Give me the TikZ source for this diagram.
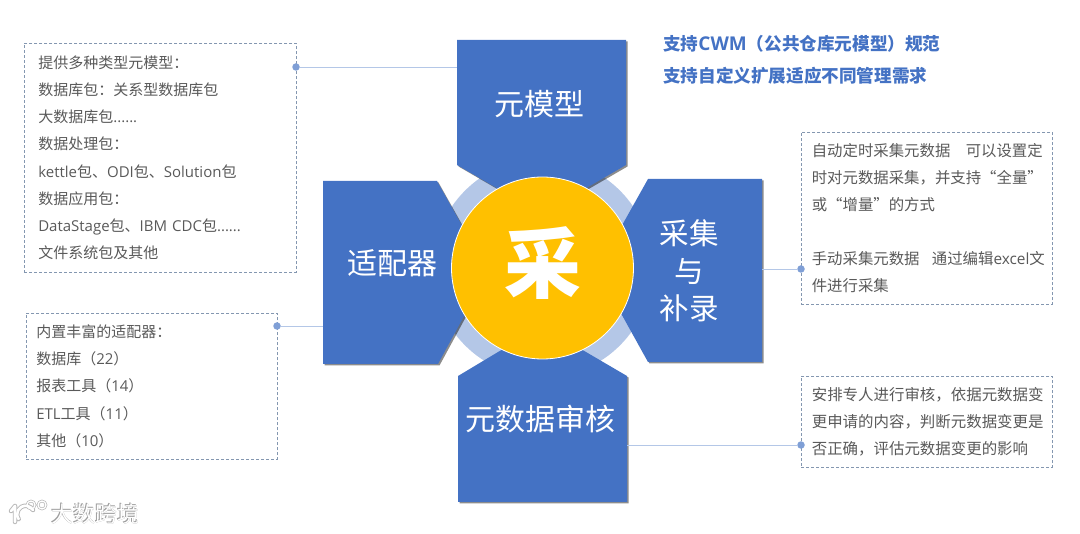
\documentclass[tikz,border=0pt]{standalone}
\usepackage{fontspec}
\usepackage{xcolor}
\usetikzlibrary{shadows}
\setmainfont{Noto Sans CJK SC}
\newfontfamily\latinfont{Open Sans}
\newfontfamily\widelatinfont[Scale=1.08]{Open Sans}
\newcommand{\en}[1]{{\latinfont #1}}
\definecolor{blockblue}{HTML}{4472C4}
\definecolor{ringblue}{HTML}{B4C7E7}
\definecolor{coreamber}{HTML}{FFC000}
\definecolor{notegray}{HTML}{595959}
\definecolor{dotblue}{HTML}{7F9FD6}
\definecolor{dashblue}{HTML}{8497B0}
\tikzset{
  block/.style={fill=blockblue, drop shadow={shadow xshift=1.5pt, shadow yshift=-1.5pt, opacity=0.45, fill=black}},
  blocktext/.style={text=white, font=\fontsize{30}{38}\selectfont, align=center},
  notebox/.style={draw=dashblue, densely dashed, line width=0.6pt, anchor=north west, inner sep=0pt, text=notegray,
    font=\fontsize{15}{27.1}\selectfont, align=left},
  linkdot/.style={circle, fill=dotblue, inner sep=0pt, minimum size=7.5pt},
  linkline/.style={draw=ringblue, line width=0.6pt},
  headline/.style={text=blockblue, anchor=west, inner sep=0pt, font=\fontsize{17.6}{20}\selectfont\bfseries},
  markglow/.style={text=white!62!black, anchor=west, inner sep=0pt, font=\fontsize{22}{22}\selectfont},
}
\begin{document}
\begin{tikzpicture}[x=1pt, y=-1pt]
\useasboundingbox (0,0) rectangle (1080,534);
\fill[ringblue] (542.5,268) circle (109.5);
% the four blocks
\fill[block] (457,40) -- (626,40) -- (626,165) -- (541.5,214) -- (457,165) -- cycle;
\fill[block] (323,181) -- (437,181) -- (488,272) -- (438,364) -- (323,364) -- cycle;
\fill[block] (648,179) -- (762,179) -- (762,362) -- (648,362) -- (597,270) -- cycle;
\fill[block] (458,376) -- (541.5,326) -- (627,376) -- (627,502) -- (458,502) -- cycle;
\node[blocktext] (metamodel) at (539,104.5) {元模型};
\node[blocktext] (adapter) at (392.5,263.5) {适配器};
\node[blocktext, font=\fontsize{29.5}{37.5}\selectfont] (collect) at (689,271) {采集\\与\\补录};
\node[blocktext] (audit) at (540.5,419) {元数据审核};
\node[circle, fill=coreamber, draw=white, line width=0.8pt, minimum size=182pt, inner sep=0pt, text=white, font=\fontsize{77}{77}\selectfont\bfseries] (core) at (542.5,268) {\raisebox{17pt}{采}};
% top right remarks
\node[headline] (headOne) at (663,44) {支持{\widelatinfont CWM}（公共仓库元模型）规范};
\node[headline] (headTwo) at (663,76) {支持自定义扩展适应不同管理需求};
% note boxes
\node[notebox, minimum width=272pt, minimum height=229pt, text width=272pt] (noteMeta) at (24,43) {\hspace*{14pt}提供多种类型元模型：\\\hspace*{14pt}数据库包：关系型数据库包\\\hspace*{14pt}大数据库包\en{......}\\\hspace*{14pt}数据处理包：\\\hspace*{14pt}\en{kettle}包、\en{ODI}包、\en{Solution}包\\\hspace*{14pt}数据应用包：\\\hspace*{14pt}\en{DataStage}包、\en{IBM CDC}包\en{......}\\\hspace*{14pt}文件系统包及其他};
\node[notebox, minimum width=251pt, minimum height=146pt, text width=251pt] (noteAdapter) at (26,313) {\hspace*{10pt}内置丰富的适配器：\\\hspace*{10pt}数据库（\en{22}）\\\hspace*{10pt}报表工具（\en{14}）\\\hspace*{10pt}\en{ETL}工具（\en{11}）\\\hspace*{10pt}其他（\en{10}）};
\node[notebox, minimum width=251pt, minimum height=172pt, text width=251pt, font=\fontsize{15.4}{27.1}\selectfont] (noteCollect) at (801,132) {\hspace*{10.5pt}自动定时采集元数据\hspace{1em}可以设置定\\\hspace*{10.5pt}时对元数据采集，并支持“全量”\\\hspace*{10.5pt}或“增量”的方式\\[27.1pt]\hspace*{10.5pt}手动采集元数据\hspace{0.8em}通过编辑{\latinfont excel}文\\\hspace*{10.5pt}件进行采集};
\node[notebox, minimum width=251pt, minimum height=91pt, text width=251pt, font=\fontsize{15.45}{27.1}\selectfont] (noteAudit) at (801,376) {\hspace*{10.5pt}安排专人进行审核，依据元数据变\\\hspace*{10.5pt}更申请的内容，判断元数据变更是\\\hspace*{10.5pt}否正确，评估元数据变更的影响};
% connectors
\coordinate (portMeta) at (457,67);
\coordinate (portAdapter) at (323,326);
\coordinate (portCollect) at (762,269);
\coordinate (portAudit) at (627,445);
\node[linkdot] (dotMeta) at (296,67) {};
\node[linkdot] (dotAdapter) at (277,326) {};
\node[linkdot] (dotCollect) at (801,269) {};
\node[linkdot] (dotAudit) at (801,445) {};
\draw[linkline] (dotMeta) -- (portMeta);
\draw[linkline] (dotAdapter) -- (portAdapter);
\draw[linkline] (dotCollect) -- (portCollect);
\draw[linkline] (dotAudit) -- (portAudit);
% watermark
\draw[white!72!black, line width=4.5pt, line cap=round] (15,506) -- (11,511) (15,506) -- (15,522);
\draw[white!72!black, line width=4.5pt, line cap=round] (33,510) arc (-30:-215:8.5);
\draw[white!72!black, line width=2.6pt] (31,505) circle (4) (42,505) circle (4);
\draw[white, line width=2.6pt, line cap=round] (15,506) -- (11,511) (15,506) -- (15,522);
\draw[white, line width=2.6pt, line cap=round] (33,510) arc (-30:-215:8.5);
\draw[white, line width=1.2pt] (31,505) circle (4) (42,505) circle (4);
\node[markglow] (markShadeA) at (51.6,514.6) {大数跨境};
\node[markglow] (markShadeB) at (50.4,513.4) {大数跨境};
\node[markglow, text=white] (mark) at (51,514) {大数跨境};
\end{tikzpicture}
\end{document}
